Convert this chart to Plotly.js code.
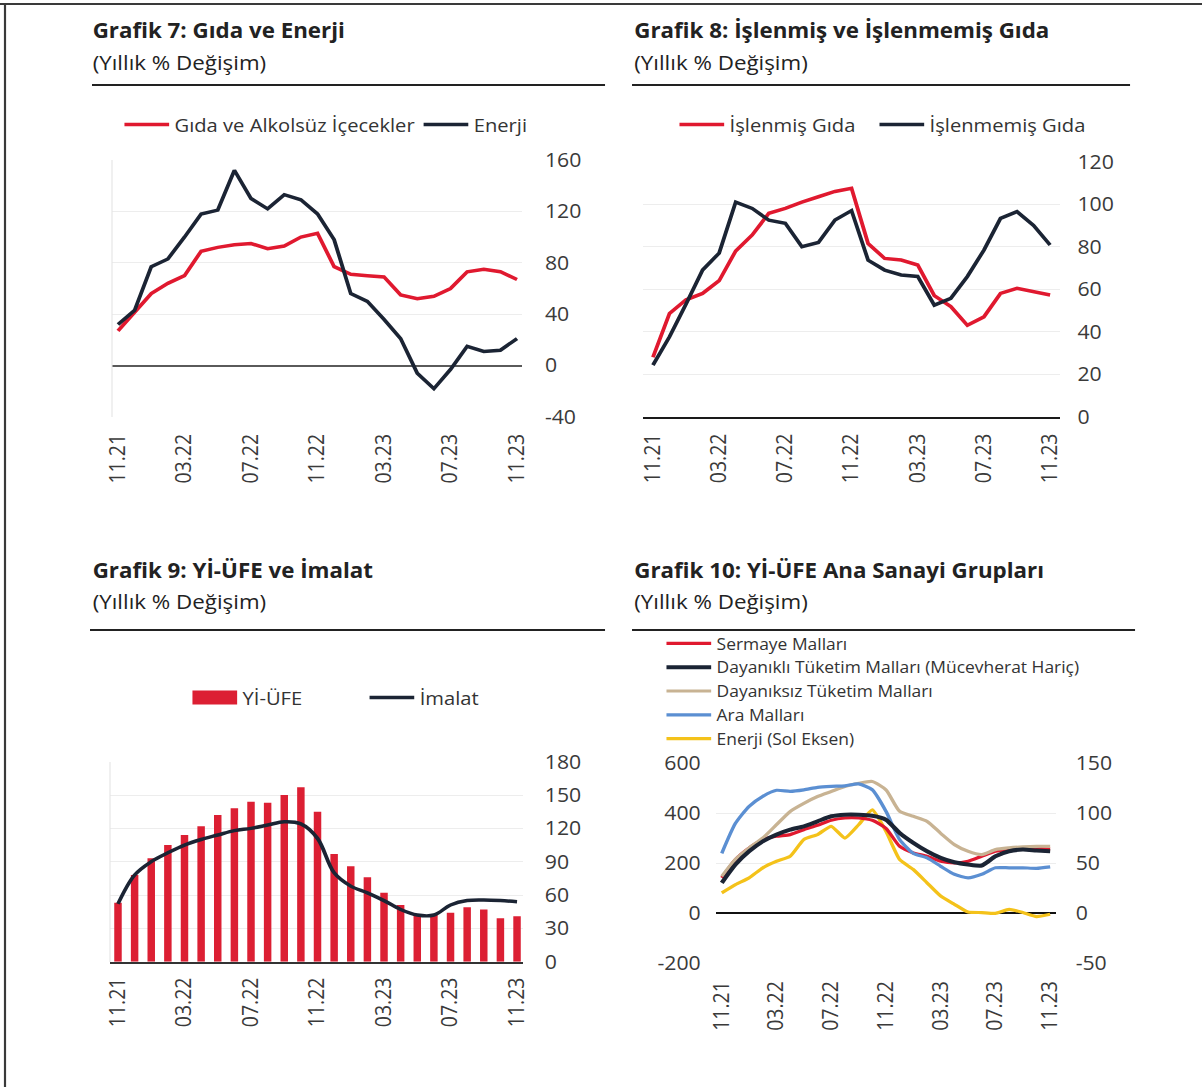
<!DOCTYPE html>
<html>
<head>
<meta charset="utf-8">
<script src="https://cdn.plot.ly/plotly-3.0.1.min.js"></script>
<style>
html,body{margin:0;padding:0;background:#fff;overflow:hidden;}
#wrap{width:1202px;height:1087px;overflow:hidden;}
#chart{width:1103px;height:1087px;transform:scaleX(1.0898);transform-origin:0 0;}
</style>
</head>
<body>
<div id="wrap"><div id="chart"></div></div>
<script>
// ---- Data (monthly, 11.21 .. 11.23) ----
const months = ["11.21","12.21","01.22","02.22","03.22","04.22","05.22","06.22","07.22","08.22","09.22","10.22","11.22","12.22","01.23","02.23","03.23","04.23","05.23","06.23","07.23","08.23","09.23","10.23","11.23"];
const tickIdx = [0,4,8,12,16,20,24];
const tickLabels = ["11.21","03.22","07.22","11.22","03.23","07.23","11.23"];

// Grafik 7
const gidaAlkolsuz = [27,42,56,64,70,89,92,94,95,91,93,100,103,77,71,70,69,55,52,54,60,73,75,73,67];
const enerji7 = [32,43,77,83,100,118,121,152,130,122,133,129,118,98,56,50,36,21,-6,-18,-3,15,11,12,21];
const y7Ticks = [-40,0,40,80,120,160];
const y7Labels = ["-40","0","40","80","120","160"];

// Grafik 8
const islenmisGida = [28,48.6,55,58,64,78,85.5,95.7,98,101,103.5,106,107.5,81.5,74.5,73.7,71.4,57,51.8,43,47,58,60.4,58.8,57.3];
const islenmemisGida = [24.3,37.6,53,69,77,101,98,92.5,91,80,82,92.5,97,73.7,69,66.7,66,52.5,55.7,66,78.4,93.3,96.5,90,80.8];

// Grafik 9
const yiUfe = [53,78,93,105,114,122,132,138,144,143,150,157,135,97,86,76,62,51,42,42,44,49,47,39,41];
const imalat = [52,78,90,98,105,110,114,118,120,123,126,124,111,80,68,62,55,47,42,42,51,55,55.5,55,54];

// Grafik 10 (right axis except Enerji on left axis)
const sermaye = [35.5,53.8,65.4,73.7,77,78.7,83.6,88,93,95.3,95.3,93,85,67,60.4,57,52,50.4,52,57,62,63.7,64.4,64.4,64.4];
const dayanikli = [30.5,48.8,62,72,78.7,83.6,87,92,97,98.6,98.6,97.6,93.6,80.3,70.4,62,55.4,51,48.8,47.8,57,62,63.7,62.7,62];
const dayaniksiz = [37,54,65.4,75.3,88.6,101.9,110,116.8,121.8,126.8,130,131.8,123.5,102,97,92,80,68.7,62,58.7,63.7,65.4,66.4,67,67];
const araMallari = [60,90,107,117,123,122,123.5,126,127,127.5,129.4,123.5,102,73.7,60,55.4,47,39,35.5,39,45.5,45.5,45.5,45,46.5];
const enerji10 = [82,115,142,182,208,228,295,315,348,301,354,414,328,215,175,122,69,36,5,3,0,16,3,-13,-4];
const y10LeftTicks = [-200,0,200,400,600];
const y10LeftLabels = ["-200","0","200","400","600"];
const y10RightTicks = [-50,0,50,100,150];
const y10RightLabels = ["-50","0","50","100","150"];

// ---- helpers (positions given in target pixels, converted to paper fractions) ----
const TW = 1202, H = 1087, LW = 1103;
const px = x => x / TW;
const py = y => 1 - y / H;
const idx = months.map((_, i) => i);

const RED = '#e0192f', NAVY = '#1b2434', TAN = '#c8b393', BLUE = '#5b8fd2', YEL = '#f4c21a';
const FONT = 'Open Sans, Noto Sans, sans-serif';
const tickFont = {family: FONT, size: 19.5, color: '#3a3a3a'};

function xAxis(d, r, anchor, extra) {
  return Object.assign({
    domain: [px(d[0]), px(d[1])], range: r, anchor: anchor,
    tickmode: 'array', tickvals: tickIdx, ticktext: tickLabels, tickangle: -90,
    showgrid: false, zeroline: false, showline: false, ticks: '',
    tickfont: tickFont, ticklabelstandoff: 10, fixedrange: true
  }, extra || {});
}
function yAxis(d, r, dt, anchor, side, extra) {
  return Object.assign({
    domain: [py(d[1]), py(d[0])], range: r, dtick: dt, tick0: 0, anchor: anchor, side: side,
    showgrid: true, gridcolor: '#ededed', gridwidth: 1, zeroline: false, showline: false, ticks: '',
    tickfont: tickFont, ticklabelstandoff: 18, fixedrange: true
  }, extra || {});
}

const traces = [
  // Grafik 7
  {x: idx, y: gidaAlkolsuz, type: 'scatter', mode: 'lines', name: 'Gıda ve Alkolsüz İçecekler', line: {color: RED, width: 3.5}, xaxis: 'x', yaxis: 'y', legend: 'legend'},
  {x: idx, y: enerji7, type: 'scatter', mode: 'lines', name: 'Enerji', line: {color: NAVY, width: 3.5}, xaxis: 'x', yaxis: 'y', legend: 'legend'},
  // Grafik 8
  {x: idx, y: islenmisGida, type: 'scatter', mode: 'lines', name: 'İşlenmiş Gıda', line: {color: RED, width: 3.5}, xaxis: 'x2', yaxis: 'y2', legend: 'legend2'},
  {x: idx, y: islenmemisGida, type: 'scatter', mode: 'lines', name: 'İşlenmemiş Gıda', line: {color: NAVY, width: 3.5}, xaxis: 'x2', yaxis: 'y2', legend: 'legend5'},
  // Grafik 9
  {x: idx, y: yiUfe, type: 'bar', name: 'Yİ-ÜFE', marker: {color: '#dc1f33'}, width: 0.45, xaxis: 'x3', yaxis: 'y3', legend: 'legend3'},
  {x: idx, y: imalat, type: 'scatter', mode: 'lines', name: 'İmalat', line: {color: NAVY, width: 3.5, shape: 'spline', smoothing: 1}, xaxis: 'x3', yaxis: 'y3', legend: 'legend3'},
  // Grafik 10
  {x: idx, y: sermaye, type: 'scatter', mode: 'lines', name: 'Sermaye Malları', line: {color: RED, width: 3.2, shape: 'spline', smoothing: 0.6}, xaxis: 'x4', yaxis: 'y5', legend: 'legend4', legendrank: 1},
  {x: idx, y: dayaniksiz, type: 'scatter', mode: 'lines', name: 'Dayanıksız Tüketim Malları', line: {color: TAN, width: 3.2, shape: 'spline', smoothing: 0.6}, xaxis: 'x4', yaxis: 'y5', legend: 'legend4', legendrank: 3},
  {x: idx, y: araMallari, type: 'scatter', mode: 'lines', name: 'Ara Malları', line: {color: BLUE, width: 3.2, shape: 'spline', smoothing: 0.6}, xaxis: 'x4', yaxis: 'y5', legend: 'legend4', legendrank: 4},
  {x: idx, y: dayanikli, type: 'scatter', mode: 'lines', name: 'Dayanıklı Tüketim Malları (Mücevherat Hariç)', line: {color: NAVY, width: 4, shape: 'spline', smoothing: 0.6}, xaxis: 'x4', yaxis: 'y5', legend: 'legend4', legendrank: 2},
  {x: idx, y: enerji10, type: 'scatter', mode: 'lines', name: 'Enerji (Sol Eksen)', line: {color: YEL, width: 3.2, shape: 'spline', smoothing: 0.5}, xaxis: 'x4', yaxis: 'y4', legend: 'legend4', legendrank: 5}
];

const legFont = {family: FONT, size: 18.5, color: '#333'};
const legBase = {orientation: 'h', xanchor: 'left', yanchor: 'middle', bgcolor: 'rgba(0,0,0,0)', borderwidth: 0, font: legFont, itemwidth: 41, itemclick: false, itemdoubleclick: false, tracegroupgap: 0};

const shapes = [
  {type: 'line', xref: 'paper', yref: 'paper', x0: 0, x1: 1, y0: py(4), y1: py(4), line: {color: '#3a3a3a', width: 2}},
  {type: 'line', xref: 'paper', yref: 'paper', x0: px(5), x1: px(5), y0: py(4), y1: 0, line: {color: '#3a3a3a', width: 2}},
  {type: 'line', xref: 'paper', yref: 'paper', x0: px(92), x1: px(605), y0: py(85), y1: py(85), line: {color: '#222', width: 2}},
  {type: 'line', xref: 'paper', yref: 'paper', x0: px(632), x1: px(1130), y0: py(85), y1: py(85), line: {color: '#222', width: 2}},
  {type: 'line', xref: 'paper', yref: 'paper', x0: px(90), x1: px(605), y0: py(630), y1: py(630), line: {color: '#222', width: 2}},
  {type: 'line', xref: 'paper', yref: 'paper', x0: px(632), x1: px(1135), y0: py(630), y1: py(630), line: {color: '#222', width: 2}},
  // faint frame lines
  {type: 'line', xref: 'paper', yref: 'paper', x0: px(112), x1: px(112), y0: py(160), y1: py(417), line: {color: '#e4e4e4', width: 1}},
  {type: 'line', xref: 'paper', yref: 'paper', x0: px(110), x1: px(110), y0: py(762), y1: py(962), line: {color: '#e4e4e4', width: 1}}
];

function title(x, y, text, bold) {
  return {xref: 'paper', yref: 'paper', x: px(x), y: py(y), xanchor: 'left', yanchor: 'middle', showarrow: false,
    text: bold ? '<b>' + text + '</b>' : text,
    font: {family: FONT, size: 20.5, color: '#222'}};
}
const annotations = [
  title(90, 30, 'Grafik 7: Gıda ve Enerji', true),
  title(90, 62, '(Yıllık % Değişim)', false),
  title(632, 30, 'Grafik 8: İşlenmiş ve İşlenmemiş Gıda', true),
  title(632, 62, '(Yıllık % Değişim)', false),
  title(90, 570, 'Grafik 9: Yİ-ÜFE ve İmalat', true),
  title(90, 601, '(Yıllık % Değişim)', false),
  title(632, 570, 'Grafik 10: Yİ-ÜFE Ana Sanayi Grupları', true),
  title(632, 601, '(Yıllık % Değişim)', false)
];

const layout = {
  width: LW, height: H,
  margin: {l: 0, r: 0, t: 0, b: 0, pad: 0},
  paper_bgcolor: '#ffffff', plot_bgcolor: 'rgba(0,0,0,0)',
  font: {family: FONT, color: '#333'},
  showlegend: true,
  hovermode: false,
  xaxis: xAxis([112, 522], [-0.36, 24.3], 'y', {ticklabelstandoff: 12}),
  yaxis: yAxis([160, 417], [-40, 160], 40, 'x', 'right', {tickmode: 'array', tickvals: y7Ticks, ticktext: y7Labels, zeroline: true, zerolinecolor: '#5a5a5a', zerolinewidth: 2, ticklabelstandoff: 20}),
  xaxis2: xAxis([643, 1060], [-0.6, 24.6], 'y2', {showline: true, linecolor: '#1a1a1a', linewidth: 2, ticklabelstandoff: 7}),
  yaxis2: yAxis([161.7, 416.7], [0, 120], 20, 'x2', 'right', {ticklabelstandoff: 15}),
  xaxis3: xAxis([110, 523], [-0.48, 24.36], 'y3', {showline: true, linecolor: '#333', linewidth: 2, ticklabelstandoff: 6}),
  yaxis3: yAxis([761.7, 961.7], [0, 180], 30, 'x3', 'right', {ticklabelstandoff: 19}),
  xaxis4: xAxis([716, 1056], [-0.42, 24.43], 'y4', {ticklabelstandoff: 13}),
  yaxis4: yAxis([763.3, 963.3], [-200, 600], 200, 'x4', 'left', {tickmode: 'array', tickvals: y10LeftTicks, ticktext: y10LeftLabels, zeroline: true, zerolinecolor: '#111', zerolinewidth: 2, ticklabelstandoff: 13}),
  yaxis5: yAxis([763.3, 963.3], [-50, 150], 50, 'x4', 'right', {tickmode: 'array', tickvals: y10RightTicks, ticktext: y10RightLabels, overlaying: 'y4', showgrid: false, ticklabelstandoff: 17}),
  barmode: 'overlay',
  legend: Object.assign({}, legBase, {x: px(119), y: py(125), entrywidth: 218.5, entrywidthmode: 'pixels'}),
  legend2: Object.assign({}, legBase, {x: px(674), y: py(125)}),
  legend5: Object.assign({}, legBase, {x: px(874), y: py(125)}),
  legend3: Object.assign({}, legBase, {x: px(187), y: py(698), entrywidth: 106.5, entrywidthmode: 'pixels'}),
  legend4: Object.assign({}, legBase, {orientation: 'v', x: px(661), y: py(691), font: {family: FONT, size: 16, color: '#333'}, traceorder: 'normal'}),
  shapes: shapes,
  annotations: annotations
};

Plotly.newPlot('chart', traces, layout, {displayModeBar: false, staticPlot: true}).then(function (gd) {
  // widen the bar legend swatch to a rectangle like the original
  gd.querySelectorAll('.legend3 .legendpoints path').forEach(function (p) {
    const d = p.getAttribute('d') || '';
    if (d.indexOf('H') >= 0 && d.indexOf('V') >= 0) {
      p.setAttribute('d', 'M20.5,7H-20.5V-7H20.5Z');
    }
  });
});
</script>
</body>
</html>
